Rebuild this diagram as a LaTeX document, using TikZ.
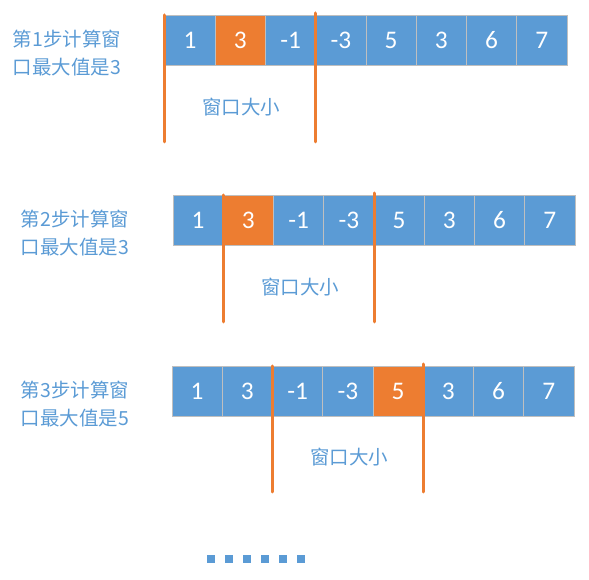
\documentclass[tikz,border=0pt]{standalone}
\usepackage{fontspec}
\setmainfont{Carlito}
\newfontfamily\cjk{Noto Sans CJK SC}
\usetikzlibrary{positioning,calc}
\definecolor{cellblue}{HTML}{5B9BD5}
\definecolor{hotorange}{HTML}{ED7D31}
\definecolor{cellgray}{HTML}{BFBFBF}

\begin{document}
\begin{tikzpicture}[
  x=0.75pt,y=-0.75pt,
  every node/.style={align=center},
  cell/.style={draw=cellgray,line width=0.6pt,fill=cellblue,text=white,minimum width=37.7pt,minimum height=37.5pt,inner sep=0pt,outer sep=0pt,font=\fontsize{19}{22}\selectfont},
  hotcell/.style={cell,fill=hotorange},
  steplabel/.style={text=cellblue,font=\cjk\fontsize{14.6}{21}\selectfont},
  winlabel/.style={text=cellblue,font=\cjk\fontsize{14.6}{17}\selectfont},
  winline/.style={draw=hotorange,line width=2.25pt,line cap=round}
]
\useasboundingbox (0,0) rectangle (589,580);

% step 1
\foreach \v/\s [count=\i] in {1/cell,3/hotcell,-1/cell,-3/cell,5/cell,3/cell,6/cell,7/cell}
  \node[\s] (r1c\i) at ({165+(\i-0.5)*50.25},40) {\v};
\node[steplabel] (r1step) at (67,53) {第1步计算窗\\口最大值是3};
\coordinate (r1end) at (0,142);
\draw[winline] (r1c1.north west) -- (r1c1.north west |- r1end);
\draw[winline] ([yshift=1.5pt]r1c3.north east) -- (r1c3.north east |- r1end);
\node[winlabel] (r1win) at (241,107) {窗口大小};

% step 2
\foreach \v/\s [count=\i] in {1/cell,3/hotcell,-1/cell,-3/cell,5/cell,3/cell,6/cell,7/cell}
  \node[\s] (r2c\i) at ({173+(\i-0.5)*50.25},220) {\v};
\node[steplabel] (r2step) at (75,233) {第2步计算窗\\口最大值是3};
\coordinate (r2end) at (0,322);
\draw[winline] (r2c1.north east) -- (r2c1.north east |- r2end);
\draw[winline] ([yshift=1.5pt]r2c4.north east) -- (r2c4.north east |- r2end);
\node[winlabel] (r2win) at (300,287) {窗口大小};

% step 3
\foreach \v/\s [count=\i] in {1/cell,3/cell,-1/cell,-3/cell,5/hotcell,3/cell,6/cell,7/cell}
  \node[\s] (r3c\i) at ({172+(\i-0.5)*50.25},391) {\v};
\node[steplabel] (r3step) at (75,404) {第3步计算窗\\口最大值是5};
\coordinate (r3end) at (0,492);
\draw[winline] (r3c2.north east) -- (r3c2.north east |- r3end);
\draw[winline] ([yshift=1.5pt]r3c5.north east) -- (r3c5.north east |- r3end);
\node[winlabel] (r3win) at (349,457) {窗口大小};

% more steps
\foreach \k in {0,...,5}
  \fill[cellblue] ({207+18*\k},555) rectangle ++(8,8);
\end{tikzpicture}
\end{document}
